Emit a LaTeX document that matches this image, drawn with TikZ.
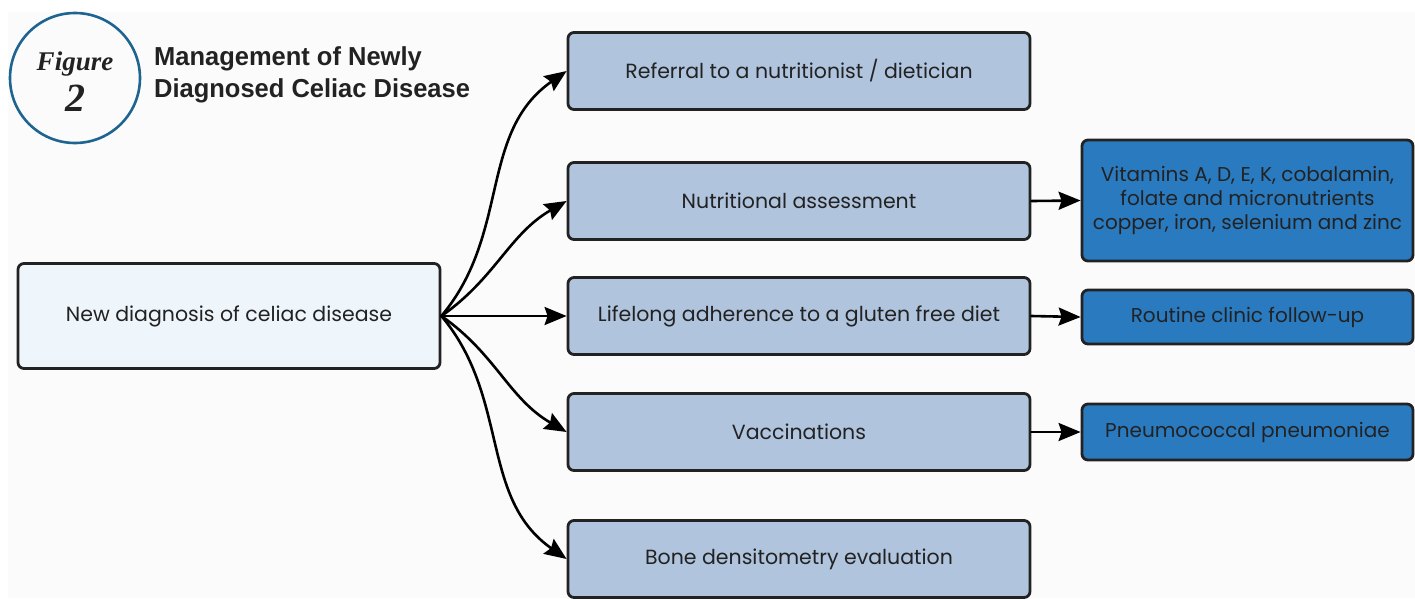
\documentclass[tikz,border=0pt]{standalone}
\usepackage{fontspec}
\setmainfont{Poppins}
\newfontfamily\titlefont{Liberation Sans}
\newfontfamily\figfont{Liberation Serif}
\usetikzlibrary{arrows.meta}
\definecolor{pagegray}{HTML}{FBFBFB}
\definecolor{ringblue}{HTML}{1D6491}
\definecolor{diagfill}{HTML}{EEF6FC}
\definecolor{stepfill}{HTML}{B0C4DE}
\definecolor{detailfill}{HTML}{2A7AC0}
\definecolor{inkgray}{HTML}{222222}

\begin{document}
\begin{tikzpicture}[x=1pt, y=-1pt, line join=round, line cap=round,
	font=\fontsize{20.5}{24}\selectfont, >={Stealth[length=22pt,width=18pt,inset=3pt]},
	box/.style={draw=inkgray, line width=2.8pt, rounded corners=6pt, text=inkgray, align=center, inner sep=0pt},
	diagbox/.style={box, fill=diagfill, minimum width=422pt, minimum height=105pt},
	actionbox/.style={box, fill=stepfill, minimum width=462pt, minimum height=77pt},
	detailbox/.style={box, fill=detailfill, minimum width=331pt, font=\fontsize{20}{24}\selectfont},
	link/.style={->, draw=black, line width=2.6pt}]
	\useasboundingbox (0,0) rectangle (1415,598);
	\fill[pagegray] (8,12) rectangle (1415,598);
	% figure badge and title
	\draw[ringblue, line width=2.6pt] (75,78) circle (65);
	\node[font=\figfont\fontsize{27}{27}\selectfont\bfseries\itshape, text=inkgray] (figword) at (75,64) {Figure};
	\node[font=\figfont\fontsize{40}{40}\selectfont\bfseries\itshape, text=inkgray] (fignum) at (75,98) {2};
	\node[anchor=west, align=left, inner sep=0pt, text=inkgray,
		font=\titlefont\fontsize{26}{32}\selectfont\bfseries] (title) at (154,75)
		{\scalebox{0.98}[1]{Management of Newly}\\\scalebox{0.98}[1]{Diagnosed Celiac Disease}};
	% boxes
	\node[diagbox] (diag) at (229,316) {New diagnosis of celiac disease};
	\node[actionbox] (refer) at (799,71) {Referral to a nutritionist / dietician};
	\node[actionbox] (assess) at (799,201) {Nutritional assessment};
	\node[actionbox] (diet) at (799,316) {Lifelong adherence to a gluten free diet};
	\node[actionbox] (vacc) at (799,432) {Vaccinations};
	\node[actionbox] (bone) at (799,559) {Bone densitometry evaluation};
	\node[detailbox, minimum height=121pt] (vitamins) at (1247.5,200.5)
		{Vitamins A, D, E, K, cobalamin,\\folate and micronutrients\\copper, iron, selenium and zinc};
	\node[detailbox, minimum height=54pt] (followup) at (1247.5,317) {Routine clinic follow-up};
	\node[detailbox, minimum height=56pt] (pneumo) at (1247.5,432) {Pneumococcal pneumoniae};
	% connectors
	\draw[link] (diag.east) to[out=50, in=215] (refer.west);
	\draw[link] (diag.east) to[out=35, in=210] (assess.west);
	\draw[link] (diag.east) -- (diet.west);
	\draw[link] (diag.east) to[out=-35, in=150] (vacc.west);
	\draw[link] (diag.east) to[out=-50, in=145] (bone.west);
	\draw[link] (assess.east) -- (vitamins.west);
	\draw[link] (diet.east) -- (followup.west);
	\draw[link] (vacc.east) -- (pneumo.west);
\end{tikzpicture}
\end{document}
